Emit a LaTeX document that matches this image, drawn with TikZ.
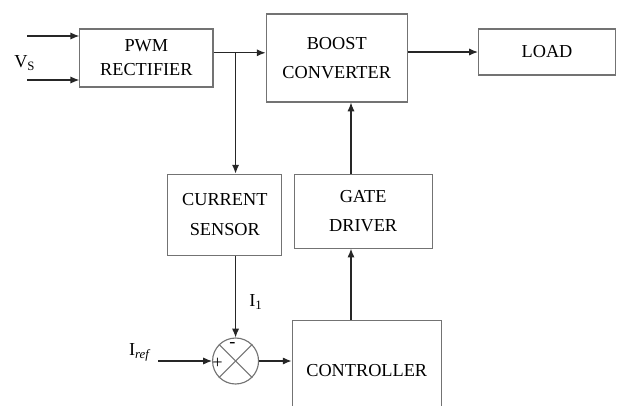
\documentclass[tikz,border=0pt]{standalone}
\usepackage{fontspec}
\setmainfont{Liberation Serif}
\usepackage{tikz}
\usetikzlibrary{arrows.meta,positioning,calc,shapes.geometric}

\begin{document}
\begin{tikzpicture}[
    font=\fontsize{13}{21}\selectfont,
    block/.style={draw=black!55, line width=0.8pt, align=center},
    sumjn/.style={draw=black!55, line width=0.8pt, circle, minimum size=1.15cm, inner sep=0pt},
    arrow/.style={-{Latex[length=2.2mm,width=1.8mm]}, line width=0.8pt, black!85},
    line/.style={line width=0.8pt, black!85}
  ]
  \useasboundingbox (0,0) rectangle (15.475,-10.125);

  \node[block, minimum width=3.33cm, minimum height=1.45cm] (rect) at (3.66,-1.45) {PWM\\[-4pt]RECTIFIER};
  \node[block, right=1.3cm of rect, minimum width=3.53cm, minimum height=2.2cm] (boost) {BOOST\\CONVERTER};
  \node[block, right=1.75cm of boost, yshift=0.15cm, minimum width=3.43cm, minimum height=1.15cm] (load) {LOAD};

  \node[block, below=2.15cm of rect, xshift=1.96cm, minimum width=2.85cm, minimum height=2.03cm] (sensor) {CURRENT\\SENSOR};
  \node[block, right=0.28cm of sensor, yshift=0.09cm, minimum width=3.45cm, minimum height=1.85cm] (gate) {GATE\\DRIVER};
  \node[block, below=1.78cm of gate, xshift=0.09cm, minimum width=3.73cm, minimum height=2.5cm] (ctrl) {CONTROLLER};

  \coordinate (out) at ($(rect.east)+(0,0.13)$);
  \coordinate (tap) at ($(out)+(0.55,0)$);
  \coordinate (vx) at (8.775,0);
  \node[sumjn] (sum) at (tap |- 0,-9.025) {};
  \draw[black!55, line width=0.8pt] (sum.north west) -- (sum.south east);
  \draw[black!55, line width=0.8pt] (sum.north east) -- (sum.south west);
  \node[inner sep=0pt] (plus) at ($(sum.center)+(-0.45,-0.05)$) {+};
  \node[inner sep=0pt] (minus) at ($(sum.center)+(-0.08,0.4)$) {-};

  % inputs and labels
  \coordinate (in1) at (0.68,-0.9);
  \coordinate (in2) at (0.68,-2.0);
  \node (vs) at (0.62,-1.57) {V\textsubscript{S}};
  \node (i1) at (6.4,-7.55) {I\textsubscript{1}};
  \node (iref) at (3.5,-8.8) {I\textsubscript{\textit{ref}}};
  \coordinate (irefin) at (3.95,-9.025);

  \draw[arrow] (in1) -- (in1 -| rect.west);
  \draw[arrow] (in2) -- (in2 -| rect.west);
  \draw[arrow] (out) -- (out -| boost.west);
  \draw[arrow] (boost.east |- load.west) -- (load.west);
  \draw[arrow] (tap) -- (tap |- sensor.north);
  \draw[arrow] (tap |- sensor.south) -- (sum.north);
  \draw[arrow] (irefin) -- (sum.west);
  \draw[arrow] (sum.east) -- (sum.east -| ctrl.west);
  \draw[arrow] (vx |- ctrl.north) -- (vx |- gate.south);
  \draw[arrow] (vx |- gate.north) -- (vx |- boost.south);
\end{tikzpicture}
\end{document}
